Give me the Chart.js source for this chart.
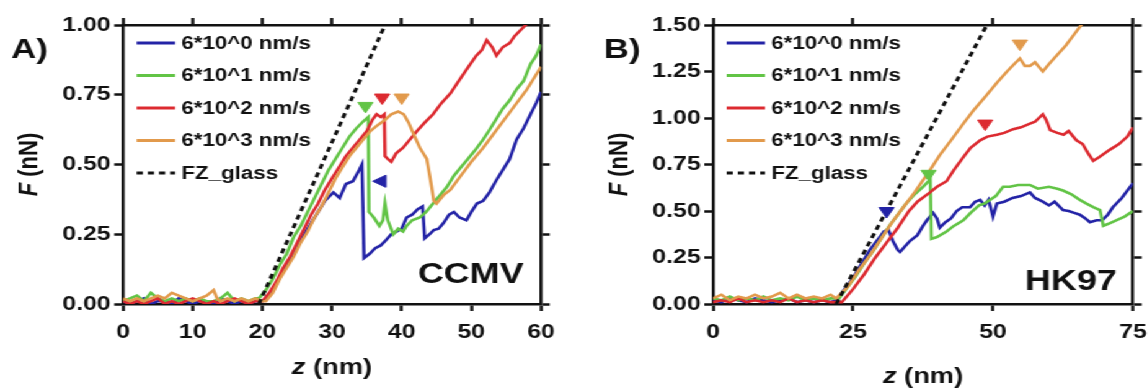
<!DOCTYPE html>
<html>
<head>
<meta charset="utf-8">
<script src="https://cdn.jsdelivr.net/npm/chart.js@4.4.0/dist/chart.umd.min.js"></script>
<style>
html, body { margin: 0; padding: 0; background: #fff; overflow: hidden; }
#wrap { position: absolute; left: 0; top: 0; width: 926px; height: 390px; transform: scaleX(1.24); transform-origin: 0 0; }
.panel { position: absolute; top: 0; width: 463px; height: 390px; }
</style>
</head>
<body>
<div id="wrap">
  <div class="panel" style="left:0"><canvas id="chartA" width="463" height="390"></canvas></div>
  <div class="panel" style="left:463px"><canvas id="chartB" width="463" height="390"></canvas></div>
</div>
<script>
// series labels
const speedLabels = ['6*10^0 nm/s', '6*10^1 nm/s', '6*10^2 nm/s', '6*10^3 nm/s'];
const glassLabel = 'FZ_glass';

// panel A (CCMV) - [z nm, F nN]
const blueA = [[0,.01],[1,0],[2,.01],[3,.02],[4,0],[5,.01],[6,.01],[7,0],[8,.02],[9,.01],[10,0],[11,.01],[12,.01],[13,0],[14,.02],[15,.01],[16,0],[17,.01],[18,0],[19,.01],[20,.01],[21,.03],[22,.07],[23,.12],[24,.16],[25,.21],[26,.25],[27,.29],[28,.33],[29,.37],[30.2,.40],[31.1,.38],[32,.43],[33,.44],[33.9,.48],[34.3,.50],[34.6,.165],[35.4,.18],[36.2,.20],[37,.21],[37.8,.23],[38.5,.25],[39.3,.26],[40,.27],[40.7,.31],[41.5,.32],[42.3,.34],[43,.35],[43.3,.235],[44,.25],[44.6,.265],[45.3,.27],[46,.29],[46.8,.32],[47.5,.33],[48.3,.31],[49.3,.30],[50,.33],[50.8,.36],[51.7,.37],[52.6,.40],[53.5,.44],[54.5,.48],[55.5,.52],[56.5,.59],[57.5,.63],[58.5,.68],[59.3,.72],[60,.76]];
const greenA = [[0,.01],[1,.02],[2,.03],[3,.01],[4,.04],[5,.02],[6,.01],[7,.02],[8,.01],[9,.02],[10,.01],[11,.02],[12,.01],[13,.01],[14,.02],[15,.04],[16,.01],[17,.02],[18,.01],[19,.02],[19.5,.02],[20.5,.05],[21.5,.09],[22.5,.14],[23.5,.18],[24.5,.24],[25.5,.28],[26.5,.33],[27.5,.38],[28.5,.43],[29.5,.48],[30.5,.52],[31.5,.56],[32.5,.60],[33.5,.63],[34.5,.655],[35.2,.67],[35.3,.33],[36,.31],[36.8,.28],[37.3,.30],[37.6,.36],[38,.30],[38.8,.25],[39.5,.27],[40.2,.26],[40.7,.28],[41.5,.30],[42.6,.31],[43.5,.33],[44.5,.36],[45.5,.39],[46.5,.42],[47.5,.46],[48.5,.49],[49.5,.52],[50.5,.55],[51.7,.59],[52.5,.62],[53.5,.66],[54.5,.70],[55.5,.73],[56.5,.77],[57.5,.80],[58.5,.86],[59.3,.89],[60,.93]];
const redA = [[0,.01],[1,0],[2,.01],[3,0],[4,.01],[5,.02],[6,0],[7,.01],[8,0],[9,.01],[10,.02],[11,.01],[12,0],[13,.01],[14,0],[15,.01],[16,.02],[17,.01],[18,0],[19,.01],[20,.01],[21,.04],[22,.08],[23,.13],[24,.17],[25,.22],[26,.27],[27,.32],[28,.36],[29,.41],[30,.45],[31,.49],[32,.53],[33,.56],[34,.59],[35,.62],[35.8,.66],[36.4,.68],[37,.67],[37.5,.68],[37.6,.53],[38,.52],[38.5,.51],[39.2,.54],[40.2,.56],[41.2,.59],[42.2,.62],[43.3,.65],[44.5,.68],[45.7,.72],[47,.755],[48.2,.80],[49.3,.84],[50.7,.89],[51.5,.91],[52.2,.946],[53,.92],[53.6,.89],[54.5,.92],[55.5,.935],[56.2,.96],[57.4,.99],[58.2,1.01]];
const orangeA = [[0,.02],[1,.01],[2,.02],[3,.01],[4,.02],[5,.03],[6,.02],[7,.04],[8,.03],[9,.02],[10,.01],[11,.02],[12,.03],[13,.05],[13.5,.02],[14,.01],[15,.02],[16,.01],[17,.02],[18,.01],[19,.02],[20,.01],[20.5,.01],[21.5,.04],[22.5,.09],[23.5,.13],[24.5,.17],[25.5,.22],[26.5,.26],[27.5,.31],[28.5,.35],[29.5,.40],[30.5,.45],[31.5,.49],[32.5,.53],[33.5,.56],[34.5,.59],[35.5,.62],[36.5,.64],[37.6,.66],[38.5,.68],[39.5,.69],[40.3,.68],[41,.65],[41.7,.61],[42.6,.56],[43.6,.52],[44.3,.42],[44.6,.37],[45,.36],[46,.39],[47,.41],[48.5,.46],[50,.51],[51.7,.56],[53.5,.62],[55,.67],[56.5,.72],[58,.77],[59,.81],[60,.85]];
const glassA = [[19.5,0],[37.6,1.0]];
const marksA = [[34.8,.71],[37.2,.74],[40,.74],[37.1,.44]];

// panel B (HK97)
const blueB = [[0,.02],[1.5,.01],[3,.03],[4.5,.02],[6,.01],[7.5,.03],[9,.02],[10.5,.01],[12,.02],[13.5,.03],[15,.01],[16.5,.02],[18,.01],[19.5,.02],[21,.01],[22,.02],[23,.06],[24,.10],[25,.14],[26,.19],[27,.24],[28,.29],[29,.33],[29.8,.36],[30.5,.39],[31.3,.40],[32.1,.34],[33,.29],[33.4,.28],[34.3,.31],[35.2,.34],[36.5,.37],[37.5,.42],[38.2,.45],[39.3,.49],[40,.46],[40.5,.41],[41.5,.44],[42.5,.46],[43.5,.50],[44.5,.52],[45.9,.52],[46.8,.55],[47.7,.56],[48.5,.53],[49.2,.56],[50,.47],[50.7,.54],[52,.55],[53.5,.57],[55,.58],[56.6,.60],[57.5,.57],[58.9,.55],[60,.53],[61,.55],[62.5,.505],[63.5,.50],[64.5,.49],[65.5,.48],[66.5,.46],[67.3,.44],[68.5,.45],[69.5,.45],[70.5,.48],[71.4,.52],[73,.57],[75,.65]];
const greenB = [[0,.03],[1.5,.02],[3,.04],[4.5,.02],[6,.03],[7.5,.02],[9,.04],[10.5,.02],[12,.03],[13.5,.02],[15,.04],[16.5,.02],[18,.03],[19.5,.02],[21,.03],[22.5,.03],[24,.09],[25.5,.15],[27,.22],[28.5,.28],[30,.35],[31.5,.42],[33,.48],[34.5,.54],[36,.59],[37.5,.63],[38.8,.67],[39,.35],[40,.36],[41.7,.39],[43,.42],[44.7,.45],[46,.49],[47.5,.53],[48.5,.54],[49.5,.56],[50.5,.58],[51.8,.63],[53,.63],[54.5,.64],[56.6,.64],[58,.62],[60,.63],[61.5,.62],[62.5,.61],[64,.59],[65.5,.56],[66.7,.54],[68,.52],[69.1,.505],[69.7,.42],[70.5,.43],[72,.45],[73.5,.47],[75,.50]];
const redB = [[0,.01],[1.5,.02],[3,.01],[4.5,.03],[6,.01],[7.5,.02],[9,.01],[10.5,.02],[12,.01],[13.5,.03],[15,.01],[16.5,.02],[18,.01],[19.5,.02],[21,.01],[22.5,.01],[23,.01],[25,.08],[27,.16],[29,.25],[31,.33],[33,.41],[35,.50],[36.5,.55],[38.75,.60],[40,.63],[41.7,.66],[43,.72],[44.7,.79],[46,.84],[47.7,.88],[49,.90],[50.7,.91],[52,.92],[53.6,.94],[55,.95],[56.6,.97],[57.5,.98],[58.9,1.02],[59.5,.99],[60.2,.935],[61.5,.92],[62.6,.91],[63.5,.93],[64.9,.88],[66,.86],[67,.81],[67.9,.77],[69,.79],[70.9,.83],[72.5,.86],[74,.90],[75,.95]];
const orangeB = [[0,.03],[1.5,.05],[3,.02],[4.5,.04],[6,.03],[7.5,.05],[9,.03],[10.5,.04],[12,.06],[13.5,.03],[15,.05],[16.5,.03],[18,.04],[19.5,.03],[21,.05],[22,.03],[24,.09],[26,.18],[28,.26],[30,.35],[32,.44],[34,.52],[36,.60],[38.75,.72],[40.5,.80],[42.5,.88],[44.7,.97],[46.5,1.04],[48.5,1.11],[50.7,1.19],[52.5,1.25],[53.8,1.29],[54.8,1.32],[55.7,1.28],[56.6,1.28],[57.5,1.30],[58.9,1.25],[60,1.29],[61.5,1.34],[63,1.39],[64.5,1.45],[66,1.51]];
const glassB = [[22,0],[48.9,1.5]];
const marksB = [[31,.50],[38.5,.70],[48.6,.97],[54.8,1.40]];

const BLUE = '#2323a6', GREEN = '#62c446', RED = '#dc2a30', ORANGE = '#e29a4c', INK = '#111111';
const FONT = '"Liberation Sans", Arial, sans-serif';

function pts(arr) {
    return arr.map(function (p) { return { x: p[0], y: p[1] }; });
}

function curve(label, arr, color, order) {
    return {
        label: label,
        data: pts(arr),
        borderColor: color,
        backgroundColor: color,
        borderWidth: 2.6,
        pointRadius: 0,
        tension: 0,
        order: order,
        inLegend: true
    };
}

function buildDatasets(b, g, r, o, glass, marks, markColors, markRot) {
    return [
        {
            label: 'marks',
            data: pts(marks),
            showLine: false,
            pointStyle: 'triangle',
            pointRadius: 7,
            pointRotation: markRot,
            pointBackgroundColor: markColors,
            pointBorderColor: markColors,
            pointBorderWidth: 1,
            order: 0
        },
        curve(speedLabels[0], b, BLUE, 5),
        curve(speedLabels[1], g, GREEN, 4),
        curve(speedLabels[2], r, RED, 3),
        curve(speedLabels[3], o, ORANGE, 2),
        {
            label: glassLabel,
            data: pts(glass),
            borderColor: INK,
            borderWidth: 3,
            borderDash: [5, 4],
            pointRadius: 0,
            order: 1,
            inLegend: true
        }
    ];
}

function buildScales(xMax, xStep, yMax, yStep, dims) {
    var tickFont = { family: FONT, size: 20, weight: 'bold' };
    var grid = { drawOnChartArea: false, drawTicks: true, tickLength: 7, tickWidth: 2.5, tickColor: INK, color: INK };
    var border = { display: true, width: 2.5, color: INK };
    return {
        x: {
            type: 'linear', position: 'bottom', min: 0, max: xMax,
            ticks: { stepSize: xStep, font: tickFont, color: INK, padding: 9, maxRotation: 0 },
            grid: grid, border: border,
            afterFit: function (s) { s.height = dims.bottom; s.paddingLeft = 0; s.paddingRight = 0; }
        },
        x2: {
            type: 'linear', position: 'top', min: 0, max: xMax,
            ticks: { stepSize: xStep, display: false },
            grid: grid, border: border,
            afterFit: function (s) { s.height = dims.top; s.paddingLeft = 0; s.paddingRight = 0; }
        },
        y: {
            type: 'linear', position: 'left', min: 0, max: yMax,
            ticks: { stepSize: yStep, font: tickFont, color: INK, padding: 3, callback: function (v) { return v.toFixed(2); } },
            grid: grid, border: border,
            afterFit: function (s) { s.width = dims.left; s.paddingTop = 0; s.paddingBottom = 0; }
        },
        y2: {
            type: 'linear', position: 'right', min: 0, max: yMax,
            ticks: { stepSize: yStep, display: false },
            grid: grid, border: border,
            afterFit: function (s) { s.width = dims.right; s.paddingTop = 0; s.paddingBottom = 0; }
        }
    };
}

function drawMixed(ctx, parts, cx, cy) {
    var total = 0;
    parts.forEach(function (p) { ctx.font = p[1]; total += ctx.measureText(p[0]).width; });
    var x = cx - total / 2;
    parts.forEach(function (p) {
        ctx.font = p[1];
        ctx.fillText(p[0], x, cy);
        x += ctx.measureText(p[0]).width;
    });
}

const decorPlugin = {
    id: 'decor',
    afterDraw: function (chart, args, opts) {
        var ctx = chart.ctx;
        var ca = chart.chartArea;
        ctx.save();
        ctx.fillStyle = INK;
        ctx.textAlign = 'left';
        ctx.textBaseline = 'alphabetic';

        // panel letter and sample name
        ctx.font = 'bold 28px ' + FONT;
        ctx.fillText(opts.letter, opts.letterX, 58);
        ctx.textAlign = 'right';
        ctx.font = 'bold 29px ' + FONT;
        ctx.fillText(opts.name, ca.right - opts.nameInset, opts.nameY);

        // axis titles
        ctx.textAlign = 'left';
        ctx.textBaseline = 'middle';
        drawMixed(ctx, [['z', 'italic bold 22px ' + FONT], [' (nm)', 'bold 22px ' + FONT]], (ca.left + ca.right) / 2, opts.xTitleY);
        ctx.save();
        ctx.translate(ca.left - 75, (ca.top + ca.bottom) / 2);
        ctx.rotate(-Math.PI / 2);
        drawMixed(ctx, [['F', 'italic bold 22px ' + FONT], [' (nN)', 'bold 22px ' + FONT]], 0, 0);
        ctx.restore();

        // legend
        var row = 0;
        ctx.font = 'bold 18px ' + FONT;
        chart.data.datasets.forEach(function (ds) {
            if (!ds.inLegend) return;
            var y = ca.top + 18 + row * 32.5;
            ctx.beginPath();
            ctx.strokeStyle = ds.borderColor;
            ctx.lineWidth = 3;
            ctx.setLineDash(ds.borderDash || []);
            ctx.moveTo(ca.left + 11, y);
            ctx.lineTo(ca.left + 42, y);
            ctx.stroke();
            ctx.setLineDash([]);
            ctx.fillText(ds.label, ca.left + 47, y + 1);
            row++;
        });
        ctx.restore();
    }
};

function makeChart(id, datasets, scales, decor) {
    return new Chart(document.getElementById(id), {
        type: 'line',
        data: { datasets: datasets },
        options: {
            responsive: false,
            animation: false,
            devicePixelRatio: 1,
            layout: { padding: 0 },
            plugins: {
                legend: { display: false },
                tooltip: { enabled: false },
                decor: decor
            },
            scales: scales
        },
        plugins: [decorPlugin]
    });
}

makeChart('chartA',
    buildDatasets(blueA, greenA, redA, orangeA, glassA, marksA, [GREEN, RED, ORANGE, BLUE], [180, 180, 180, 270]),
    buildScales(60, 10, 1.0, 0.25, { left: 99.2, right: 26.7, top: 25, bottom: 86 }),
    { letter: 'A)', letterX: 9, name: 'CCMV', nameInset: 14, nameY: 283, xTitleY: 368 });

makeChart('chartB',
    buildDatasets(blueB, greenB, redB, orangeB, glassB, marksB, [BLUE, GREEN, RED, ORANGE], [180, 180, 180, 180]),
    buildScales(75, 25, 1.5, 0.25, { left: 112, right: 12.3, top: 25, bottom: 86 }),
    { letter: 'B)', letterX: 24, name: 'HK97', nameInset: 13, nameY: 290, xTitleY: 377 });
</script>
</body>
</html>
